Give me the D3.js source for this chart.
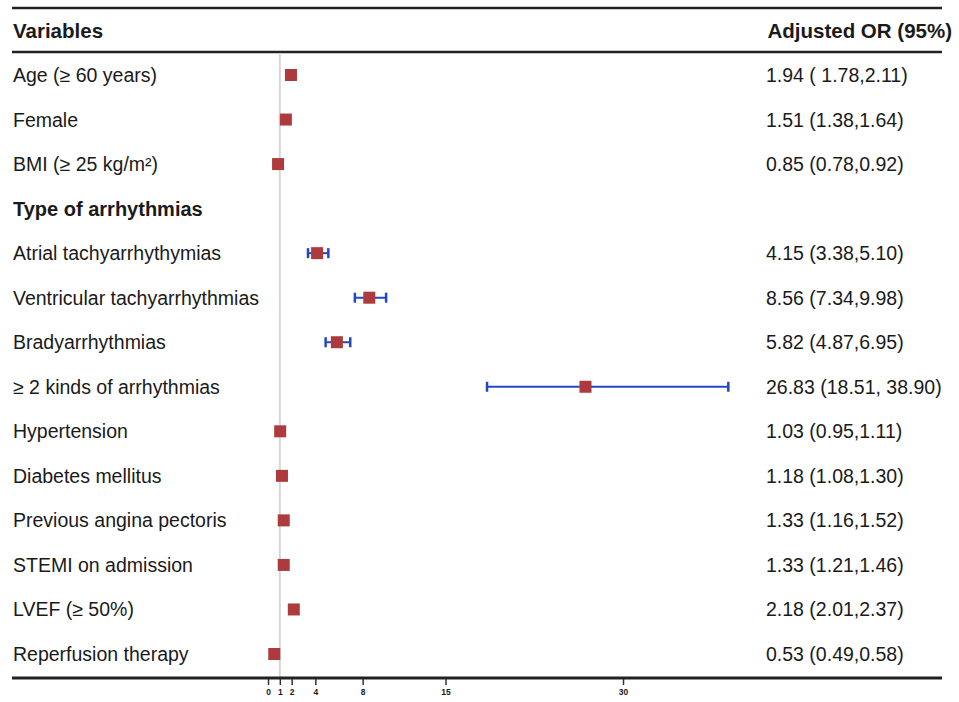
<!DOCTYPE html>
<html>
<head>
<meta charset="utf-8">
<script src="https://cdn.jsdelivr.net/npm/d3@7"></script>
<style>
  body { margin: 0; background: #fff; }
  svg text { font-family: "Liberation Sans", Arial, Helvetica, sans-serif; fill: #1a1a1a; }
</style>
</head>
<body>
<div id="chart"></div>
<script>
// rows of the table, top to bottom
var labels = ["Age (\u2265 60 years)", "Female", "BMI (\u2265 25 kg/m\u00b2)", "Type of arrhythmias",
  "Atrial tachyarrhythymias", "Ventricular tachyarrhythmias", "Bradyarrhythmias",
  "\u2265 2 kinds of arrhythmias", "Hypertension", "Diabetes mellitus",
  "Previous angina pectoris", "STEMI on admission", "LVEF (\u2265 50%)", "Reperfusion therapy"];
var orValues = [1.94, 1.51, 0.85, null, 4.15, 8.56, 5.82, 26.83, 1.03, 1.18, 1.33, 1.33, 2.18, 0.53];
var lower = [1.78, 1.38, 0.78, null, 3.38, 7.34, 4.87, 18.51, 0.95, 1.08, 1.16, 1.21, 2.01, 0.49];
var upper = [2.11, 1.64, 0.92, null, 5.10, 9.98, 6.95, 38.90, 1.11, 1.30, 1.52, 1.46, 2.37, 0.58];
var orText = ["1.94 ( 1.78,2.11)", "1.51 (1.38,1.64)", "0.85 (0.78,0.92)", "",
  "4.15 (3.38,5.10)", "8.56 (7.34,9.98)", "5.82 (4.87,6.95)", "26.83 (18.51, 38.90)",
  "1.03 (0.95,1.11)", "1.18 (1.08,1.30)", "1.33 (1.16,1.52)", "1.33 (1.21,1.46)",
  "2.18 (2.01,2.37)", "0.53 (0.49,0.58)"];
var tickValues = [0, 1, 2, 4, 8, 15, 30];

var width = 959, height = 702;
var svg = d3.select("#chart").append("svg")
    .attr("width", width)
    .attr("height", height);

var x = d3.scaleLinear().domain([0, 30]).range([268, 623]);
var y = d3.scaleLinear().domain([0, labels.length - 1]).range([75, 654]);

// rules
svg.append("line").attr("x1", 12).attr("x2", 942).attr("y1", 8).attr("y2", 8)
    .attr("stroke", "#222").attr("stroke-width", 2.5);
svg.append("line").attr("x1", 12).attr("x2", 942).attr("y1", 52).attr("y2", 52)
    .attr("stroke", "#222").attr("stroke-width", 2.5);

// reference line at OR = 1
svg.append("line")
    .attr("x1", x(1)).attr("x2", x(1))
    .attr("y1", 53).attr("y2", 677)
    .attr("stroke", "#d6d6d6").attr("stroke-width", 2);

// header
svg.append("text").attr("x", 13).attr("y", 38)
    .attr("font-size", 20.5).attr("font-weight", "bold").text("Variables");
svg.append("text").attr("x", 952).attr("y", 38).attr("text-anchor", "end")
    .attr("font-size", 20.5).attr("font-weight", "bold").text("Adjusted OR (95%)");

// row labels
svg.selectAll("text.label").data(labels).enter().append("text")
    .attr("class", "label")
    .attr("x", 13)
    .attr("y", function(d, i){ return y(i) + 7; })
    .attr("font-size", function(d, i){ return orValues[i] === null ? 20 : 19.5; })
    .attr("font-weight", function(d, i){ return orValues[i] === null ? "bold" : "normal"; })
    .text(function(d){ return d; });

svg.selectAll("text.or").data(orText).enter().append("text")
    .attr("class", "or")
    .attr("x", 766)
    .attr("y", function(d, i){ return y(i) + 7; })
    .attr("font-size", 19.5)
    .text(function(d){ return d; });

// confidence intervals
var rows = orValues.map(function(v, i){ return {i: i, or: v, lo: lower[i], hi: upper[i]}; })
    .filter(function(d){ return d.or !== null; });

var ci = svg.selectAll("g.ci").data(rows).enter().append("g").attr("class", "ci");
var blue = "#2546c4";
ci.append("line")
    .attr("x1", function(d){ return x(d.lo); })
    .attr("x2", function(d){ return x(d.hi); })
    .attr("y1", function(d){ return y(d.i); })
    .attr("y2", function(d){ return y(d.i); })
    .attr("stroke", blue).attr("stroke-width", 2);
ci.append("line")
    .attr("x1", function(d){ return x(d.lo); })
    .attr("x2", function(d){ return x(d.lo); })
    .attr("y1", function(d){ return y(d.i) - 5; })
    .attr("y2", function(d){ return y(d.i) + 5; })
    .attr("stroke", blue).attr("stroke-width", 2.5);
ci.append("line")
    .attr("x1", function(d){ return x(d.hi); })
    .attr("x2", function(d){ return x(d.hi); })
    .attr("y1", function(d){ return y(d.i) - 5; })
    .attr("y2", function(d){ return y(d.i) + 5; })
    .attr("stroke", blue).attr("stroke-width", 2.5);

// point estimates
svg.selectAll("rect.pt").data(rows).enter().append("rect")
    .attr("class", "pt")
    .attr("x", function(d){ return x(d.or) - 6; })
    .attr("y", function(d){ return y(d.i) - 6; })
    .attr("width", 12).attr("height", 12)
    .attr("fill", "#ad3a3c");

// bottom axis
svg.append("line").attr("x1", 12).attr("x2", 942).attr("y1", 678).attr("y2", 678)
    .attr("stroke", "#222").attr("stroke-width", 3);

var axis = svg.append("g")
    .attr("transform", "translate(0,679)")
    .call(d3.axisBottom(x).tickValues(tickValues).tickSize(6).tickFormat(d3.format("d")));
axis.select(".domain").remove();
axis.selectAll(".tick line").attr("stroke", "#333").attr("stroke-width", 1.5);
axis.selectAll(".tick text")
    .attr("y", 10)
    .attr("font-size", 8.5)
    .attr("font-weight", "bold")
    .attr("font-family", "Liberation Sans, Arial, sans-serif")
    .attr("fill", "#222");
</script>
</body>
</html>
